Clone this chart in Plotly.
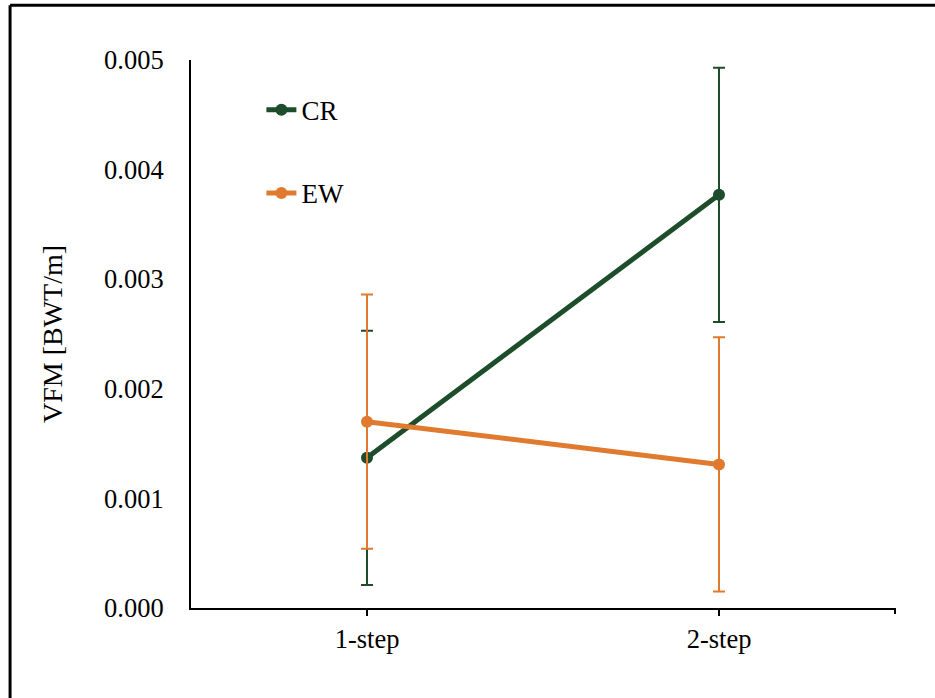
import plotly.graph_objects as go

categories = ["1-step", "2-step"]
cr_values = [0.00137, 0.00377]
cr_errors = [0.00116, 0.00116]
ew_values = [0.00170, 0.00131]
ew_errors = [0.00116, 0.00116]
y_ticks = [0.000, 0.001, 0.002, 0.003, 0.004, 0.005]

GREEN = "#1E4D2B"
ORANGE = "#E07A2F"
FONT = "Times New Roman, Liberation Serif, DejaVu Serif, serif"

fig = go.Figure()
fig.add_trace(go.Scatter(
    x=[0, 1], y=cr_values, name="CR", mode="lines+markers",
    line=dict(color=GREEN, width=5), marker=dict(color=GREEN, size=12),
    error_y=dict(type="data", array=cr_errors, visible=True, color=GREEN,
                 thickness=2, width=6),
    legendgroup="cr",
))
fig.add_trace(go.Scatter(
    x=[0, 1], y=ew_values, name="EW", mode="lines+markers",
    line=dict(color=ORANGE, width=5), marker=dict(color=ORANGE, size=12),
    error_y=dict(type="data", array=ew_errors, visible=True, color=ORANGE,
                 thickness=2, width=6),
    legendgroup="ew",
))

fig.update_layout(
    width=935, height=698,
    margin=dict(l=191, r=40, t=60, b=90),
    paper_bgcolor="white", plot_bgcolor="white",
    font=dict(family=FONT, size=26.5, color="black"),
    showlegend=True,
    legend=dict(x=0.10, y=0.953, xanchor="left", yanchor="top",
                bgcolor="rgba(0,0,0,0)", tracegroupgap=45,
                font=dict(family=FONT, size=27)),
    xaxis=dict(
        range=[-0.5, 1.5], tickvals=[0, 1], ticktext=categories,
        showline=True, linecolor="black", linewidth=2,
        ticks="outside", ticklen=6, tickwidth=2, tickcolor="black",
        showgrid=False, zeroline=False, ticklabelstandoff=0,
        tickfont=dict(family=FONT, size=26.5),
    ),
    yaxis=dict(
        range=[0, 0.005], tickvals=y_ticks, tickformat=".3f",
        showline=True, linecolor="black", linewidth=2,
        ticks="", showgrid=False, zeroline=False, ticklabelstandoff=20,
        tickfont=dict(family=FONT, size=26.5),
        title=dict(text="VFM [BWT/m]", standoff=33, font=dict(family=FONT, size=28)),
    ),
    shapes=[
        dict(type="line", xref="paper", yref="paper", x0=1, x1=1, y0=0,
             y1=-0.011, line=dict(color="black", width=2)),
        dict(type="line", xref="paper", yref="paper", x0=-0.257, x1=-0.257,
             y0=1.1, y1=-0.2, line=dict(color="black", width=3)),
        dict(type="line", xref="paper", yref="paper", x0=-0.257, x1=1.1,
             y0=1.1, y1=1.1, line=dict(color="black", width=3)),
    ],
)

fig.write_html("out.html")
